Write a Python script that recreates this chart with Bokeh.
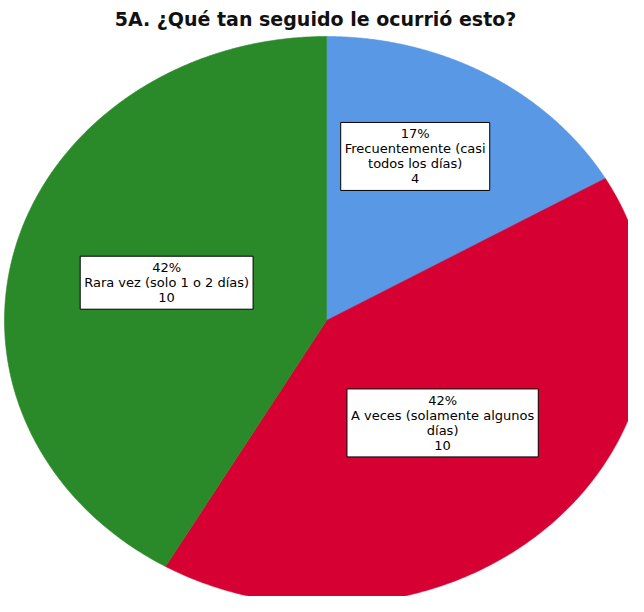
import numpy as np
from bokeh.plotting import figure
from bokeh.models import Range1d, ColumnDataSource
from bokeh.core.properties import value
from bokeh.embed import file_html
from bokeh.resources import INLINE

# ---- data ----
title_text = "5A. ¿Qué tan seguido le ocurrió esto?"
categories = ["Frecuentemente (casi\ntodos los días)",
              "A veces (solamente algunos\ndías)",
              "Rara vez (solo 1 o 2 días)"]
counts = [4, 10, 10]

# ---- style ----
colors = ["#5898E4", "#D60032", "#2A8A2A"]
label_r = [0.64, 0.51, 0.514]
label_dtheta = [-4.5, 0.0, 0.0]

W, H = 628, 596
cx, cy = 326, 276          # centre of pie in plot units (pixels)
rx, ry = 322, 284          # ellipse radii

p = figure(width=W, height=H, output_backend="svg", toolbar_location=None,
           x_range=Range1d(0, W), y_range=Range1d(0, H), min_border=0)
p.axis.visible = False
p.grid.visible = False
p.outline_line_color = None
p.background_fill_color = "white"
p.border_fill_color = "white"

total = sum(counts)
fracs = np.array(counts) / total
ends = np.cumsum(fracs) * 360.0
starts = ends - fracs * 360.0

xs, ys = [], []
for s, e in zip(starts, ends):
    th = np.radians(np.linspace(s, e, 200))
    xs.append(np.concatenate([[cx], cx + rx * np.sin(th), [cx]]))
    ys.append(np.concatenate([[cy], cy + ry * np.cos(th), [cy]]))

p.patches(xs=xs, ys=ys, fill_color=colors, line_color=colors, line_width=0.6)

# labels
lx, ly, txt = [], [], []
for i, (s, e) in enumerate(zip(starts, ends)):
    mid = np.radians((s + e) / 2 + label_dtheta[i])
    lx.append(cx + label_r[i] * rx * np.sin(mid))
    ly.append(cy + label_r[i] * ry * np.cos(mid))
    pct = int(round(100 * counts[i] / total))
    txt.append(f"{pct}%\n{categories[i]}\n{counts[i]}")

src = ColumnDataSource(dict(x=lx, y=ly, text=txt))
p.text(x="x", y="y", text="text", source=src,
       text_font=value("DejaVu Sans"), text_font_size="13px",
       text_color="black", text_align="center", text_baseline="middle",
       text_line_height=1.0,
       background_fill_color="white", border_line_color="black",
       border_line_width=1, padding=4)

# title
p.text(x=[W / 2 + 1], y=[H - 18], text=[title_text],
       text_font=value("DejaVu Sans"), text_font_style="bold",
       text_font_size="19px", text_color="#111111",
       text_align="center", text_baseline="alphabetic")

open("out.html", "w").write(file_html(p, INLINE))
